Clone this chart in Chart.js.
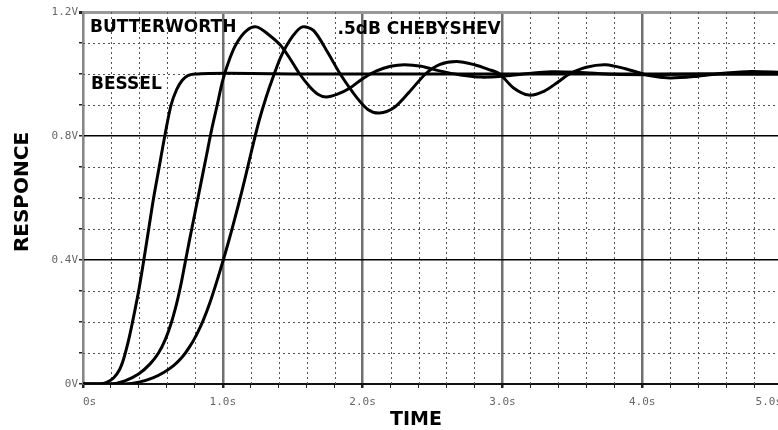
<!DOCTYPE html>
<html>
<head>
<meta charset="utf-8">
<script src="https://cdn.jsdelivr.net/npm/chart.js@4"></script>
<style>
  html, body { margin: 0; padding: 0; background: #fff; overflow: hidden; }
  #wrap { width: 790px; height: 430px; position: relative; }
</style>
</head>
<body>
<div id="wrap"><canvas id="stepChart"></canvas></div>
<script>
// step response (time in s, response in V)
const besselT = [0, 0.12, 0.17, 0.22, 0.26, 0.29, 0.32, 0.345, 0.37, 0.40, 0.435, 0.47, 0.505, 0.545, 0.585, 0.63, 0.67, 0.71, 0.75, 0.8, 0.9, 1.2, 1.5, 2.0, 3.0, 4.0, 5.0];
const besselV = [0, 0, 0.005, 0.02, 0.045, 0.08, 0.13, 0.18, 0.235, 0.305, 0.4, 0.5, 0.6, 0.7, 0.8, 0.9, 0.95, 0.98, 0.995, 1.0, 1.002, 1.002, 1.0, 1.0, 1.0, 1.0, 1.0];

const butterT = [0, 0.2, 0.3, 0.4, 0.48, 0.54, 0.59, 0.63, 0.67, 0.7, 0.73, 0.76, 0.8, 0.84, 0.88, 0.92, 0.96, 1.0, 1.05, 1.1, 1.17, 1.24, 1.32, 1.41, 1.48, 1.55, 1.62, 1.68, 1.74, 1.82, 1.91, 2.0, 2.1, 2.2, 2.3, 2.42, 2.55, 2.7, 2.85, 3.0, 3.15, 3.35, 3.55, 3.8, 4.1, 4.5, 5.0];
const butterV = [0, 0, 0.01, 0.033, 0.065, 0.1, 0.145, 0.195, 0.26, 0.32, 0.39, 0.46, 0.55, 0.64, 0.73, 0.82, 0.9, 0.98, 1.05, 1.1, 1.14, 1.152, 1.13, 1.094, 1.05, 1.0, 0.96, 0.935, 0.926, 0.935, 0.955, 0.985, 1.01, 1.025, 1.03, 1.025, 1.01, 0.997, 0.99, 0.993, 1.0, 1.007, 1.005, 0.999, 0.998, 1.0, 1.0];

const chebyT = [0, 0.3, 0.4, 0.5, 0.58, 0.65, 0.71, 0.76, 0.81, 0.86, 0.91, 0.96, 1.01, 1.06, 1.11, 1.16, 1.21, 1.26, 1.31, 1.36, 1.42, 1.5, 1.57, 1.65, 1.75, 1.84, 1.96, 2.04, 2.12, 2.22, 2.33, 2.45, 2.55, 2.67, 2.8, 2.9, 2.98, 3.08, 3.19, 3.3, 3.4, 3.48, 3.6, 3.74, 3.88, 4.05, 4.2, 4.4, 4.6, 4.78, 5.0];
const chebyV = [0, 0, 0.006, 0.02, 0.038, 0.06, 0.087, 0.118, 0.157, 0.205, 0.265, 0.335, 0.41, 0.49, 0.575, 0.665, 0.76, 0.85, 0.925, 0.99, 1.06, 1.122, 1.152, 1.14, 1.07, 1.0, 0.923, 0.885, 0.874, 0.89, 0.94, 1.0, 1.03, 1.04, 1.03, 1.015, 1.0, 0.955, 0.932, 0.945, 0.975, 1.0, 1.022, 1.03, 1.017, 0.995, 0.987, 0.993, 1.003, 1.008, 1.005];

const xTicks = [0, 1, 2, 3, 4, 5];
const xTickLabels = ["0s", "1.0s", "2.0s", "3.0s", "4.0s", "5.0s"];
const yTicks = [0, 0.4, 0.8, 1.2];
const yTickLabels = ["0V", "0.4V", "0.8V", "1.2V"];

const toPoints = (ts, vs) => ts.map((t, i) => ({ x: t, y: vs[i] }));
const near = (a, b) => Math.abs(a - b) < 1e-6;
const idxOf = (arr, v) => arr.findIndex(a => near(a, v));
const isWhole = v => near(v, Math.round(v));

// dotted minor grid + curve names + axis titles
const scopeDecor = {
  id: "scopeDecor",
  beforeDatasetsDraw(chart) {
    const { ctx, chartArea: a, scales: { x, y } } = chart;
    ctx.save();
    ctx.strokeStyle = "#555";
    ctx.lineWidth = 1;
    ctx.setLineDash([2, 3]);
    for (let k = 1; k < 25; k++) {
      if (k % 5 === 0) continue;
      const px = Math.round(x.getPixelForValue(k * 0.2)) + 0.5;
      ctx.beginPath(); ctx.moveTo(px, a.top); ctx.lineTo(px, a.bottom); ctx.stroke();
    }
    for (let k = 1; k < 12; k++) {
      if (k % 4 === 0) continue;
      const py = Math.round(y.getPixelForValue(k * 0.1)) + 0.5;
      ctx.beginPath(); ctx.moveTo(a.left, py); ctx.lineTo(a.right, py); ctx.stroke();
    }
    ctx.restore();
  },
  afterDatasetsDraw(chart) {
    const { ctx, scales: { x, y } } = chart;
    ctx.save();
    ctx.fillStyle = "#000";
    ctx.textBaseline = "middle";
    ctx.textAlign = "left";
    ctx.font = "bold 17px 'DejaVu Sans'";
    ctx.fillText("BUTTERWORTH", x.getPixelForValue(0.05), y.getPixelForValue(1.15));
    ctx.fillText("BESSEL", x.getPixelForValue(0.057), y.getPixelForValue(0.965));
    ctx.fillText(".5dB CHEBYSHEV", x.getPixelForValue(1.82), y.getPixelForValue(1.142));

    ctx.textAlign = "center";
    ctx.font = "bold 19px 'DejaVu Sans'";
    ctx.fillText("TIME", 416, 420);
    ctx.translate(23, 192);
    ctx.rotate(-Math.PI / 2);
    ctx.font = "bold 20px 'DejaVu Sans'";
    ctx.fillText("RESPONCE", 0, 0);
    ctx.restore();
  }
};

new Chart(document.getElementById("stepChart"), {
  type: "line",
  data: {
    datasets: [
      { label: "Bessel", data: toPoints(besselT, besselV) },
      { label: "Butterworth", data: toPoints(butterT, butterV) },
      { label: ".5dB Chebyshev", data: toPoints(chebyT, chebyV) }
    ]
  },
  options: {
    responsive: true,
    maintainAspectRatio: false,
    animation: false,
    layout: { padding: { top: 12, right: 6, bottom: 0, left: 0 } },
    elements: {
      line: { borderColor: "#000", borderWidth: 3, tension: 0.3, borderJoinStyle: "round" },
      point: { radius: 0 }
    },
    plugins: { legend: { display: false }, tooltip: { enabled: false } },
    scales: {
      x: {
        type: "linear",
        min: 0,
        max: 5,
        afterFit: s => { s.height = 46; },
        border: { color: "#111", width: 2 },
        grid: {
          color: c => isWhole(c.tick.value) ? "#707070" : "rgba(0,0,0,0)",
          lineWidth: c => isWhole(c.tick.value) ? 2.5 : 1,
          tickColor: "#222",
          tickLength: 4
        },
        ticks: {
          stepSize: 0.2,
          autoSkip: false,
          maxRotation: 0,
          align: "inner",
          padding: 8,
          color: "#666",
          font: { family: "'DejaVu Sans Mono'", size: 11 },
          callback: v => { const i = idxOf(xTicks, v); return i < 0 ? "" : xTickLabels[i]; }
        }
      },
      y: {
        min: 0,
        max: 1.2,
        afterFit: s => { s.width = 83; },
        border: { color: "#888", width: 2 },
        grid: {
          color: c => {
            const v = c.tick.value;
            if (near(v, 1.2)) return "#999";
            return idxOf(yTicks, v) >= 0 ? "#000" : "rgba(0,0,0,0)";
          },
          lineWidth: c => near(c.tick.value, 1.2) ? 3 : 1.5,
          tickColor: "#222",
          tickLength: 4
        },
        ticks: {
          stepSize: 0.1,
          autoSkip: false,
          padding: 1,
          color: "#666",
          font: { family: "'DejaVu Sans Mono'", size: 11 },
          callback: v => { const i = idxOf(yTicks, v); return i < 0 ? "" : yTickLabels[i]; }
        }
      }
    }
  },
  plugins: [scopeDecor]
});
</script>
</body>
</html>
